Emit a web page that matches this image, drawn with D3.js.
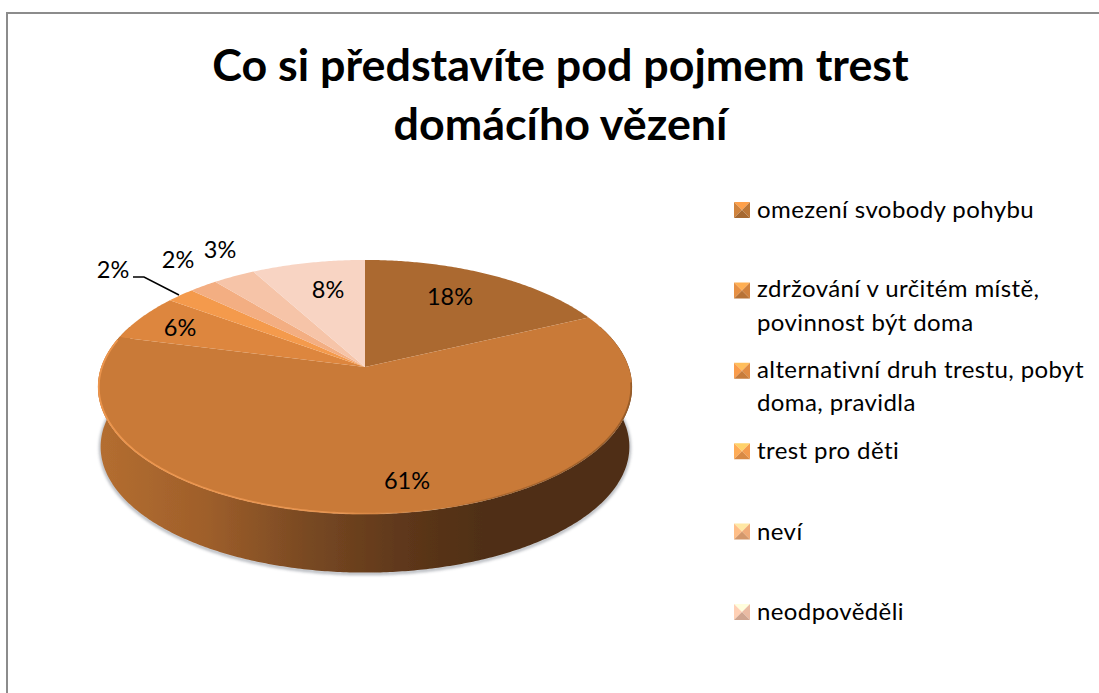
<!DOCTYPE html>
<html><head><meta charset="utf-8">
<style>html,body{margin:0;padding:0;background:#fff}svg{display:block}text{font-family:Lato,"Open Sans",sans-serif;fill:#000}</style>
<script src="https://cdn.jsdelivr.net/npm/d3@7/dist/d3.min.js"></script>
</head><body><svg id="c" width="1099" height="693"></svg>
<script>
const titleLines = ["Co si představíte pod pojmem trest", "domácího vězení"];
const categories = ["omezení svobody pohybu", "zdržování v určitém místě, povinnost být doma", "alternativní druh trestu, pobyt doma, pravidla", "trest pro děti", "neví", "neodpověděli"];
const legendWrapped = [["omezení svobody pohybu"], ["zdržování v určitém místě,", "povinnost být doma"], ["alternativní druh trestu, pobyt", "doma, pravidla"], ["trest pro děti"], ["neví"], ["neodpověděli"]];
const sliceValues = [18, 61, 6, 2, 2, 3, 8];
const sliceColors = ["#ab6930", "#c97a38", "#dd863e", "#f49a4c", "#f3ae82", "#f6c4a8", "#f8d4c3"];
const legendColors = ["#b87436", "#cc7f3c", "#dd8a42", "#f0984c", "#eba877", "#e6b8a0"];
const labelCenters = [[450, 297], [407, 481], [180, 328], [113, 270], [178, 260], [220, 250], [328, 290]];

const svg = d3.select("#c");
const defs = svg.append("defs");
const W = 1099, H = 693;

// frame
svg.append("path").attr("d", `M7 ${H}V13H${W}`).attr("fill", "none").attr("stroke", "#8c8c8c").attr("stroke-width", 2);

// title
svg.selectAll("text.title").data(titleLines).join("text").attr("class", "title")
  .attr("x", 560.5).attr("y", (d, i) => 81 + i * 59).attr("text-anchor", "middle")
  .attr("font-size", 44.8).attr("font-weight", 700).text(d => d);

// perspective pie
const cx = 365, cy = 367, A = 263.7, B = 123.9, k = 0.1575, depth = 59;
const proj = (t, s = 1, dy = 0) => {
  const u = Math.sin(t), v = Math.cos(t), w = 1 + k * v;
  return [cx + s * A * u / w, cy + dy - s * B * v / w];
};
const arcPts = (a0, a1, s, dy) => {
  const n = Math.max(2, Math.ceil(Math.abs(a1 - a0) / 0.01));
  return d3.range(n + 1).map(i => proj(a0 + (a1 - a0) * i / n, s, dy));
};
const line = d3.line();
const pie = d3.pie().sort(null)(sliceValues);

// blur filters and gradient
const f = defs.append("filter").attr("id", "soft").attr("x", "-5%").attr("y", "-5%").attr("width", "110%").attr("height", "110%");
f.append("feGaussianBlur").attr("stdDeviation", 1.6);
const f2 = defs.append("filter").attr("id", "soft2").attr("x", "-5%").attr("y", "-5%").attr("width", "110%").attr("height", "110%");
f2.append("feGaussianBlur").attr("stdDeviation", 0.7);
const sg = defs.append("linearGradient").attr("id", "side").attr("gradientUnits", "userSpaceOnUse").attr("x1", 98).attr("x2", 632).attr("y1", 0).attr("y2", 0);
[[0, "#b46e30"], [0.2, "#9f5f2b"], [0.4, "#774822"], [0.6, "#5b3519"], [0.72, "#4f2f14"], [1, "#4f2e14"]]
  .forEach(([o, c]) => sg.append("stop").attr("offset", o).attr("stop-color", c));
const hg = defs.append("linearGradient").attr("id", "rim").attr("gradientUnits", "userSpaceOnUse").attr("x1", 98).attr("x2", 632).attr("y1", 0).attr("y2", 0);
[[0, "#f0984f", 0.9], [0.45, "#ee9a55", 0.75], [0.62, "#d98a48", 0.15], [0.75, "#6a3f1c", 0.35], [1, "#6a3f1c", 0.5]]
  .forEach(([o, c, a]) => hg.append("stop").attr("offset", o).attr("stop-color", c).attr("stop-opacity", a));

const deg = Math.PI / 180;
const sideA0 = 70 * deg, sideA1 = 290 * deg;
const bottom = arcPts(sideA1, sideA0, 0.99, depth + 1);
const sidePts = arcPts(sideA0, sideA1, 1, 0).concat(bottom);

// drop shadow below the side
svg.append("path").attr("d", line(arcPts(sideA0, sideA1, 0.99, depth + 2)))
  .attr("fill", "none").attr("stroke", "#8a8f98").attr("stroke-width", 3).attr("filter", "url(#soft)").attr("opacity", .7);

svg.append("path").attr("d", line(sidePts) + "Z").attr("fill", "url(#side)").attr("filter", "url(#soft2)");

// top slices
svg.selectAll("path.slice").data(pie).join("path").attr("class", "slice")
  .attr("d", d => line([[cx, cy]].concat(arcPts(d.startAngle, d.endAngle, 1, 0))) + "Z")
  .attr("fill", (d, i) => sliceColors[i]);

// rim highlight along the front edge
svg.append("path").attr("d", line(arcPts(97 * deg, 283 * deg, 0.997, 0)))
  .attr("fill", "none").attr("stroke", "url(#rim)").attr("stroke-width", 1.8).attr("filter", "url(#soft2)");

// leader
svg.append("path").attr("d", "M133 277H144L179 295").attr("fill", "none").attr("stroke", "#000").attr("stroke-width", 1.5);

// slice labels
svg.selectAll("text.lab").data(sliceValues).join("text").attr("class", "lab")
  .attr("x", (d, i) => labelCenters[i][0]).attr("y", (d, i) => labelCenters[i][1] + 8)
  .attr("text-anchor", "middle").attr("font-size", 23.5).text(d => d + "%");

// legend
const legY = d3.scalePoint().domain(categories).range([210, 612]);
const legend = svg.selectAll("g.leg").data(categories).join("g").attr("class", "leg")
  .attr("transform", d => `translate(734,${legY(d)})`);
const sz = 16, half = 8;
const shades = [
  {pts: [[0, -half], [sz, -half], [sz / 2, 0]], fn: c => d3.color(c).brighter(0.9)},
  {pts: [[0, -half], [0, half], [sz / 2, 0]], fn: c => d3.color(c).brighter(0.35)},
  {pts: [[sz, -half], [sz, half], [sz / 2, 0]], fn: c => d3.color(c).brighter(0.05)},
  {pts: [[0, half], [sz, half], [sz / 2, 0]], fn: c => d3.color(c).darker(0.3)}
];
legend.each(function(d, i) {
  const g = d3.select(this);
  shades.forEach(s => g.append("path").attr("d", line(s.pts) + "Z").attr("fill", s.fn(legendColors[i])));
  g.selectAll("text").data(legendWrapped[i]).join("text")
    .attr("x", 23).attr("y", (t, j) => 8 + (legendWrapped[i].length > 1 ? -1 : 0) + j * 33.5)
    .attr("font-size", 24).attr("letter-spacing", 0.4).text(t => t);
});
</script></body></html>
